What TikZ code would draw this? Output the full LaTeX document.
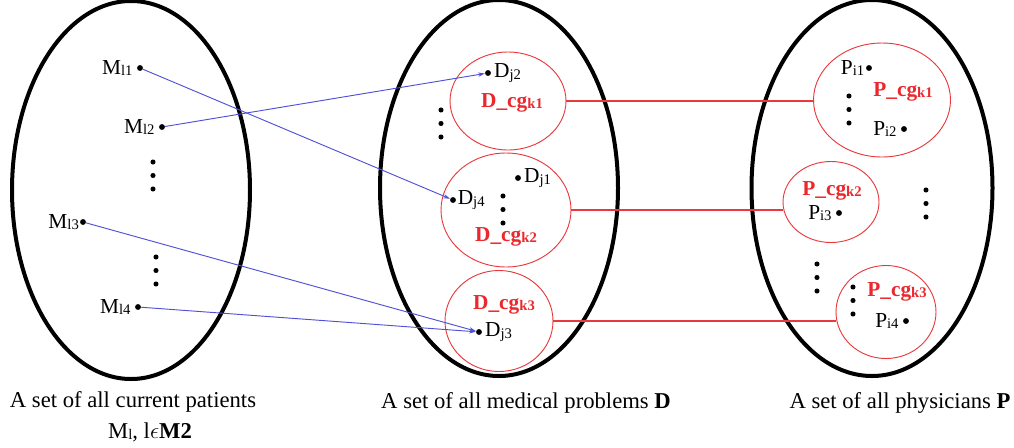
\documentclass[tikz,border=0pt]{standalone}
\usepackage{fontspec}
\setmainfont{Liberation Serif}
\usetikzlibrary{shapes.geometric,arrows.meta}

\definecolor{grpred}{RGB}{232,58,62}
\definecolor{txtred}{RGB}{235,40,45}
\definecolor{linkblue}{RGB}{80,80,215}

% letter with a small index set just below the baseline
\newcommand\idx[2]{#1{\fontsize{11}{11}\selectfont\raisebox{-1pt}{#2}}}
% three stacked dots (a vertical ellipsis) starting at (x,y)
\newcommand\stackdots[2]{\foreach \k in {0,1,2}{\fill (#1,#2+\k*13.5) circle (1.9pt);}}

\begin{document}
\begin{tikzpicture}[x=0.75pt,y=-0.75pt,
  setell/.style={ellipse, draw=black, line width=3pt, inner sep=0pt},
  grp/.style={ellipse, draw=grpred, line width=0.7pt, inner sep=0pt},
  pt/.style={circle, fill=black, inner sep=0pt, minimum size=4.4pt},
  lab/.style={inner sep=0pt, font=\fontsize{16}{17}\selectfont},
  grptext/.style={inner sep=0pt, text=txtred, font=\fontsize{16}{17}\selectfont\bfseries},
  caption/.style={inner sep=0pt, font=\fontsize{17}{20}\selectfont},
  link/.style={draw=linkblue, line width=0.7pt, -{Stealth[length=5pt,width=3.2pt]}},
  pair/.style={draw=grpred, line width=0.8pt}]

\useasboundingbox (0,0) rectangle (1014,447);

% the three sets
\node[setell, minimum width=178.5pt, minimum height=283.5pt] (setM) at (131,190) {};
\node[setell, minimum width=178.5pt, minimum height=282pt] (setD) at (499,188) {};
\node[setell, minimum width=180.75pt, minimum height=282pt] (setP) at (872,188) {};

% groups of medical problems
\node[grp, minimum width=87pt, minimum height=73.5pt] (dk1) at (508,101) {};
\node[grp, minimum width=97.5pt, minimum height=85.5pt] (dk2) at (506,210) {};
\node[grp, minimum width=81pt, minimum height=75.75pt] (dk3) at (499,321) {};

% groups of physicians
\node[grp, minimum width=102.75pt, minimum height=85.5pt] (pk1) at (882,100) {};
\node[grp, minimum width=72pt, minimum height=60.75pt] (pk2) at (831,202) {};
\node[grp, minimum width=75pt, minimum height=69.75pt] (pk3) at (886,312) {};

% patients
\node[pt] (ml1) at (140,68) {};
\node[pt] (ml2) at (162,127) {};
\node[pt] (ml3) at (83,222) {};
\node[pt] (ml4) at (138,307) {};
\node[lab, anchor=east] (ml1t) at ([xshift=-3pt]ml1.west) {\idx{M}{l1}};
\node[lab, anchor=east] (ml2t) at ([xshift=-3pt]ml2.west) {\idx{M}{l2}};
\node[lab, anchor=east] (ml3t) at ([xshift=-0.5pt]ml3.west) {\idx{M}{l3}};
\node[lab, anchor=east] (ml4t) at ([xshift=-3pt]ml4.west) {\idx{M}{l4}};
\stackdots{153}{162}
\stackdots{156}{257}

% medical problems
\node[pt] (dj2) at (488,73) {};
\node[pt] (dj1) at (518,178) {};
\node[pt] (dj4) at (453,200) {};
\node[pt] (dj3) at (479,332) {};
\node[lab, anchor=west] (dj2t) at ([xshift=2pt]dj2.east) {\idx{D}{j2}};
\node[lab, anchor=west] (dj1t) at ([xshift=2pt]dj1.east) {\idx{D}{j1}};
\node[lab, anchor=west] (dj4t) at ([xshift=1pt]dj4.east) {\idx{D}{j4}};
\node[lab, anchor=west] (dj3t) at ([xshift=2pt]dj3.east) {\idx{D}{j3}};
\node[grptext] (dk1t) at (512,103) {\idx{D\_cg}{k1}};
\node[grptext] (dk2t) at (506,237) {\idx{D\_cg}{k2}};
\node[grptext] (dk3t) at (504,305) {\idx{D\_cg}{k3}};
\stackdots{441}{110}
\stackdots{503}{196}

% physicians
\node[pt] (pi1) at (869,68) {};
\node[pt] (pi2) at (904,129) {};
\node[pt] (pi3) at (839,213) {};
\node[pt] (pi4) at (906,321) {};
\node[lab, anchor=east] (pi1t) at ([xshift=-1pt]pi1.west) {\idx{P}{i1}};
\node[lab, anchor=east] (pi2t) at ([xshift=-3pt]pi2.west) {\idx{P}{i2}};
\node[lab, anchor=east] (pi3t) at ([xshift=-3pt]pi3.west) {\idx{P}{i3}};
\node[lab, anchor=east] (pi4t) at ([xshift=-3pt]pi4.west) {\idx{P}{i4}};
\node[grptext] (pk1t) at (903,92) {\idx{P\_cg}{k1}};
\node[grptext] (pk2t) at (832,191) {\idx{P\_cg}{k2}};
\node[grptext] (pk3t) at (897,292) {\idx{P\_cg}{k3}};
\stackdots{849}{96}
\stackdots{926}{190}
\stackdots{817}{264}
\stackdots{853}{287}

% patient -> problem links
\draw[link] (ml1) -- (dj4);
\draw[link] (ml2) -- (dj2);
\draw[link] (ml3) -- (dj3);
\draw[link] (ml4) -- (dj3);

% problem group <-> physician group links
\draw[pair] (dk1.east) -- (pk1.west |- dk1.east);
\draw[pair] (dk2.east) -- (pk2.west |- dk2.east);
\draw[pair] (dk3.east) -- (pk3.west |- dk3.east);

% captions
\node[caption] (capM) at (133,402) {A set of all current patients};
\node[caption] (capMl) at (150,432) {\idx{M}{l}, l$\epsilon$\textbf{M2}};
\node[caption] (capD) at (526,403) {A set of all medical problems \textbf{D}};
\node[caption] (capP) at (900,403) {A set of all physicians \textbf{P}};
\end{tikzpicture}
\end{document}
